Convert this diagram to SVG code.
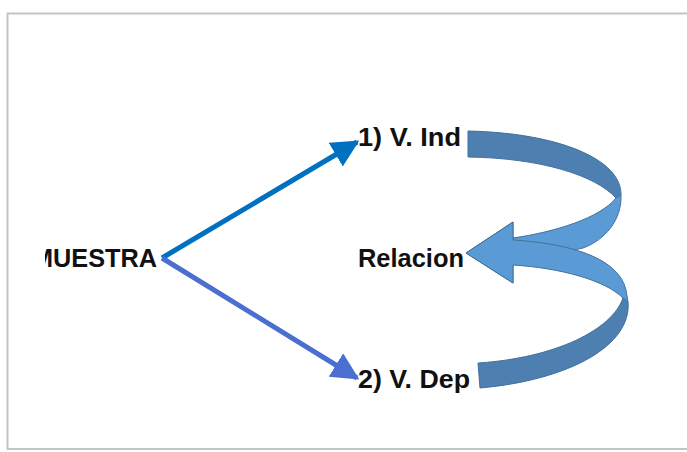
<svg xmlns="http://www.w3.org/2000/svg" width="687" height="452" viewBox="0 0 687 452">
<style>
.lbl{font-family:"Liberation Sans",Arial,sans-serif;font-weight:bold;font-size:26px;fill:#111}
.dark{fill:#4D7FB1;stroke:#41719C;stroke-width:1}
.light{fill:#5B9BD5;stroke:#41719C;stroke-width:1}
</style>
<defs>
<marker id="ah1" viewBox="0 0 10 10" refX="9" refY="5" markerWidth="5.5" markerHeight="5.5" orient="auto" markerUnits="strokeWidth"><path d="M0,0 L10,5 L0,10 Z" fill="#0070C0"/></marker>
<marker id="ah2" viewBox="0 0 10 10" refX="9" refY="5" markerWidth="5.5" markerHeight="5.5" orient="auto" markerUnits="strokeWidth"><path d="M0,0 L10,5 L0,10 Z" fill="#4A6FD0"/></marker>
<clipPath id="clipL"><rect x="45" y="0" width="642" height="452"/></clipPath>
</defs>
<rect x="0" y="0" width="687" height="452" fill="#fff"/>
<rect x="7.5" y="13.5" width="700" height="435.5" fill="none" stroke="#c4c4c4" stroke-width="2"/>
<g id="connectors">
<line x1="162" y1="258" x2="357" y2="142" stroke="#0070C0" stroke-width="5" marker-end="url(#ah1)"/>
<line x1="162" y1="258" x2="357" y2="378" stroke="#4A6FD0" stroke-width="5" marker-end="url(#ah2)"/>
<g id="curved-upper">
<path class="dark" d="M468,131 C560,133 622,160 621,195 L616,198 C595,175 540,158 468,157 Z"/>
<path class="light" d="M621,195 C622,220 605,240 583,248 L513,263 L513,283 L466,253 L513,222 L513,238 C555,232 600,218 616,198 Z"/>
</g>
<g id="curved-lower">
<path class="dark" d="M478,363 C555,358 612,330 623,298 L628,302 C632,345 570,380 480,388 Z"/>
<path class="light" d="M513,240 C562,243 618,255 626,290 L628,302 L623,298 C605,280 560,268 513,265 L513,283 L466,253 L513,222 Z"/>
</g>
</g>
<g id="muestra" clip-path="url(#clipL)"><text class="lbl" x="32" y="267" textLength="125" lengthAdjust="spacingAndGlyphs">MUESTRA</text></g>
<g id="v-ind"><text class="lbl" x="358" y="146" textLength="103" lengthAdjust="spacingAndGlyphs">1) V. Ind</text></g>
<g id="relacion"><text class="lbl" x="358" y="267" textLength="106" lengthAdjust="spacingAndGlyphs">Relacion</text></g>
<g id="v-dep"><text class="lbl" x="358" y="388" textLength="112" lengthAdjust="spacingAndGlyphs">2) V. Dep</text></g>
</svg>
